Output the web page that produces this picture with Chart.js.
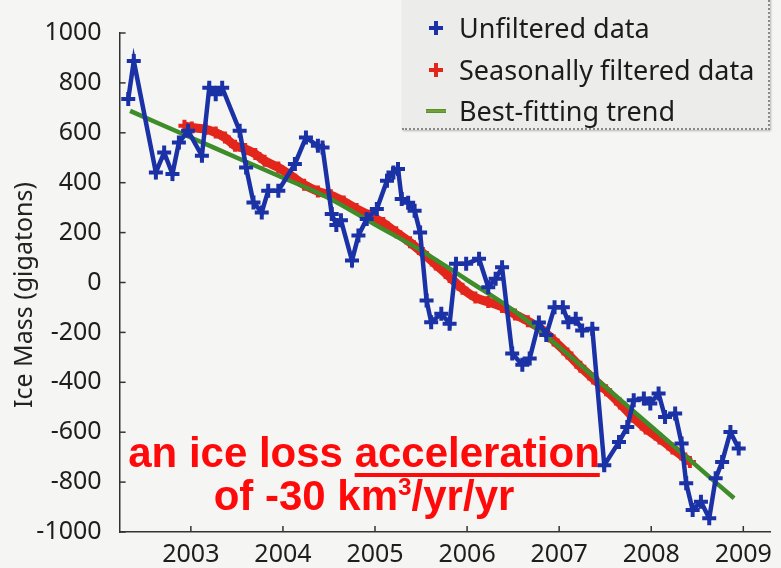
<!DOCTYPE html>
<html>
<head>
<meta charset="utf-8">
<script src="https://cdn.jsdelivr.net/npm/chart.js@4.4.1/dist/chart.umd.min.js"></script>
<style>
    body { margin: 0; background: #f5f5f3; }
    #wrap { position: relative; width: 781px; height: 568px; overflow: hidden; }
    canvas { position: absolute; left: 0; top: 0; }
    #legend {
        position: absolute; left: 402px; top: -12px; width: 366px; height: 140px;
        background: #ececea; border-right: 2px dotted #8a8a8a; border-bottom: 2px dotted #8a8a8a;
        box-shadow: 1px 1px 2px rgba(0,0,0,0.25);
        font: 27px "Noto Sans", sans-serif; color: #1c1c1c;
    }
    .row { position: absolute; left: 57px; height: 40px; line-height: 40px; white-space: nowrap; }
    .mk { position: absolute; left: -30px; top: 13px; width: 14px; height: 14px; }
    .plus::before { content: ''; position: absolute; left: 0; top: 5px; width: 14px; height: 4px; background: currentColor; }
    .plus::after { content: ''; position: absolute; left: 5px; top: 0; width: 4px; height: 14px; background: currentColor; }
    .dash { left: -33px; top: 18px; width: 20px; height: 4px; background: linear-gradient(#3e8c2a, #8aa83a 50%, #3e8c2a); }
    .note {
        position: absolute; left: 104px; width: 520px; text-align: center;
        font: bold 42px "Liberation Sans", Arial, sans-serif; line-height: 43px; color: #ff0a0a;
        white-space: nowrap;
    }
    .note u { text-decoration: underline; text-decoration-thickness: 4px; text-underline-offset: 6px; }
    .note sup { font-size: 0.58em; line-height: 0; }
</style>
</head>
<body>
<div id="wrap">
    <canvas id="iceChart" width="781" height="568"></canvas>
    <div id="legend"></div>
    <div class="note" style="top:431px">an ice loss <u>acceleration</u></div>
    <div class="note" style="top:474px">of -30 km<sup>3</sup>/yr/yr</div>
</div>
<script>
// Unfiltered monthly data (year, gigatons)
const blueYears = [2002.32, 2002.38, 2002.62, 2002.71, 2002.80, 2002.87, 2002.97, 2003.12, 2003.20, 2003.27,
    2003.34, 2003.53, 2003.60, 2003.68, 2003.77, 2003.84, 2003.95, 2004.13, 2004.25, 2004.38,
    2004.43, 2004.53, 2004.58, 2004.63, 2004.75, 2004.82, 2004.91, 2005.02, 2005.13, 2005.20,
    2005.25, 2005.29, 2005.36, 2005.43, 2005.49, 2005.56, 2005.61, 2005.72, 2005.81, 2005.88,
    2005.99, 2006.13, 2006.23, 2006.31, 2006.38, 2006.49, 2006.60, 2006.68, 2006.78, 2006.86,
    2006.95, 2007.04, 2007.10, 2007.18, 2007.25, 2007.36, 2007.49, 2007.65, 2007.74, 2007.81,
    2007.92, 2007.99, 2008.08, 2008.15, 2008.26, 2008.33, 2008.38, 2008.45, 2008.54, 2008.63,
    2008.70, 2008.77, 2008.86, 2008.95];
const blueValues = [735, 888, 441, 521, 435, 561, 608, 508, 781, 755,
    781, 608, 461, 321, 281, 368, 368, 475, 581, 548,
    541, 275, 230, 250, 88, 188, 255, 295, 408, 441,
    455, 335, 320, 288, 200, -72, -159, -125, -165, 75,
    75, 95, -19, 15, 61, -285, -330, -305, -160, -210,
    -99, -99, -159, -145, -192, -185, -732, -639, -579, -472,
    -465, -485, -445, -539, -525, -645, -805, -912, -879, -945,
    -785, -719, -599, -665];

// Seasonally filtered data
const redYears = [2002.93, 2003.01, 2003.16, 2003.27, 2003.37, 2003.48, 2003.59, 2003.70, 2003.80, 2003.95,
    2004.09, 2004.23, 2004.38, 2004.52, 2004.66, 2004.80, 2004.95, 2005.09, 2005.23, 2005.38,
    2005.52, 2005.66, 2005.81, 2005.95, 2006.09, 2006.23, 2006.38, 2006.52, 2006.66, 2006.80,
    2006.94, 2007.09, 2007.23, 2007.37, 2007.51, 2007.66, 2007.80, 2007.94, 2008.09, 2008.23,
    2008.37, 2008.42];
const redValues = [628, 621, 615, 601, 581, 548, 535, 515, 488, 461,
    428, 392, 365, 350, 325, 295, 268, 238, 201, 161,
    118, 72, 22, -25, -60, -78, -98, -128, -155, -185,
    -232, -285, -338, -385, -432, -485, -538, -585, -625, -665,
    -705, -719];

// Best-fitting trend
const greenYears = [2002.34, 2003.0, 2003.5, 2004.0, 2004.5, 2005.0, 2005.5, 2006.0, 2006.5, 2007.0, 2007.5, 2008.0, 2008.5, 2008.9];
const greenValues = [688, 581, 500, 420, 338, 232, 128, 10, -111, -258, -418, -577, -737, -865];

const seriesLabels = ['Unfiltered data', 'Seasonally filtered data', 'Best-fitting trend'];
const seriesColors = ['#1b31a6', '#e3261b', '#3e8c2a'];
const yTicks = [-1000, -800, -600, -400, -200, 0, 200, 400, 600, 800, 1000];
const xTicks = [2003, 2004, 2005, 2006, 2007, 2008, 2009];

const toPoints = (xs, ys) => xs.map((x, i) => ({ x: x, y: ys[i] }));

// Inward tick marks and the rotated y title
const axisDecor = {
    id: 'axisDecor',
    beforeDatasetsDraw(chart) {
        const { ctx, chartArea, scales } = chart;
        ctx.save();
        ctx.strokeStyle = '#333';
        ctx.lineWidth = 1.5;
        yTicks.forEach(v => {
            const y = scales.y.getPixelForValue(v);
            ctx.beginPath();
            ctx.moveTo(chartArea.left, y);
            ctx.lineTo(chartArea.left + 6, y);
            ctx.stroke();
        });
        xTicks.forEach(v => {
            const x = scales.x.getPixelForValue(v);
            ctx.beginPath();
            ctx.moveTo(x, chartArea.bottom);
            ctx.lineTo(x, chartArea.bottom - 6);
            ctx.stroke();
        });
        ctx.translate(25, 295);
        ctx.rotate(-Math.PI / 2);
        ctx.font = '25px "Noto Sans"';
        ctx.fillStyle = '#222';
        ctx.textAlign = 'center';
        ctx.textBaseline = 'middle';
        ctx.fillText('Ice Mass (gigatons)', 0, 0);
        ctx.restore();
    }
};

const chart = new Chart(document.getElementById('iceChart').getContext('2d'), {
    type: 'line',
    data: {
        datasets: [{
            label: seriesLabels[0],
            data: toPoints(blueYears, blueValues),
            borderColor: seriesColors[0],
            backgroundColor: seriesColors[0],
            borderWidth: 4.5,
            pointStyle: 'cross',
            pointRadius: 7,
            pointBorderWidth: 4,
            tension: 0,
            order: 0
        }, {
            label: seriesLabels[1],
            data: toPoints(redYears, redValues),
            borderColor: seriesColors[1],
            backgroundColor: seriesColors[1],
            borderWidth: 9,
            pointStyle: 'cross',
            pointRadius: 6,
            pointBorderWidth: 4,
            tension: 0.3,
            order: 2
        }, {
            label: seriesLabels[2],
            data: toPoints(greenYears, greenValues),
            borderColor: seriesColors[2],
            borderWidth: 4.5,
            pointRadius: 0,
            tension: 0.4,
            order: 1
        }]
    },
    options: {
        responsive: false,
        animation: false,
        devicePixelRatio: 1,
        layout: { padding: { top: 32, right: 3, left: 0, bottom: 0 } },
        plugins: {
            legend: { display: false },
            tooltip: { enabled: false }
        },
        scales: {
            x: {
                type: 'linear',
                min: 2002.226,
                max: 2009.29,
                afterFit: scale => { scale.height = 36; },
                grid: { display: true, drawOnChartArea: false, drawTicks: false },
                border: { display: true, color: '#333', width: 1.5 },
                ticks: {
                    stepSize: 1,
                    includeBounds: false,
                    padding: 8,
                    color: '#1e1e1e',
                    font: { family: 'Noto Sans', size: 25 },
                    callback: value => String(value)
                }
            },
            y: {
                min: -1000,
                max: 1000,
                afterFit: scale => { scale.width = 119.6; },
                grid: { display: true, drawOnChartArea: false, drawTicks: false },
                border: { display: true, color: '#333', width: 1.5 },
                ticks: {
                    stepSize: 200,
                    padding: 18,
                    color: '#1e1e1e',
                    font: { family: 'Noto Sans', size: 25 },
                    callback: value => String(value)
                }
            }
        }
    },
    plugins: [axisDecor]
});

// HTML legend built from the datasets
const legend = document.getElementById('legend');
chart.data.datasets.forEach((ds, i) => {
    const row = document.createElement('div');
    row.className = 'row';
    row.style.top = (20 + i * 41.5) + 'px';
    const mk = document.createElement('span');
    mk.className = i === 2 ? 'mk dash' : 'mk plus';
    mk.style.color = seriesColors[i];
    row.appendChild(mk);
    row.appendChild(document.createTextNode(ds.label));
    legend.appendChild(row);
});
</script>
</body>
</html>
